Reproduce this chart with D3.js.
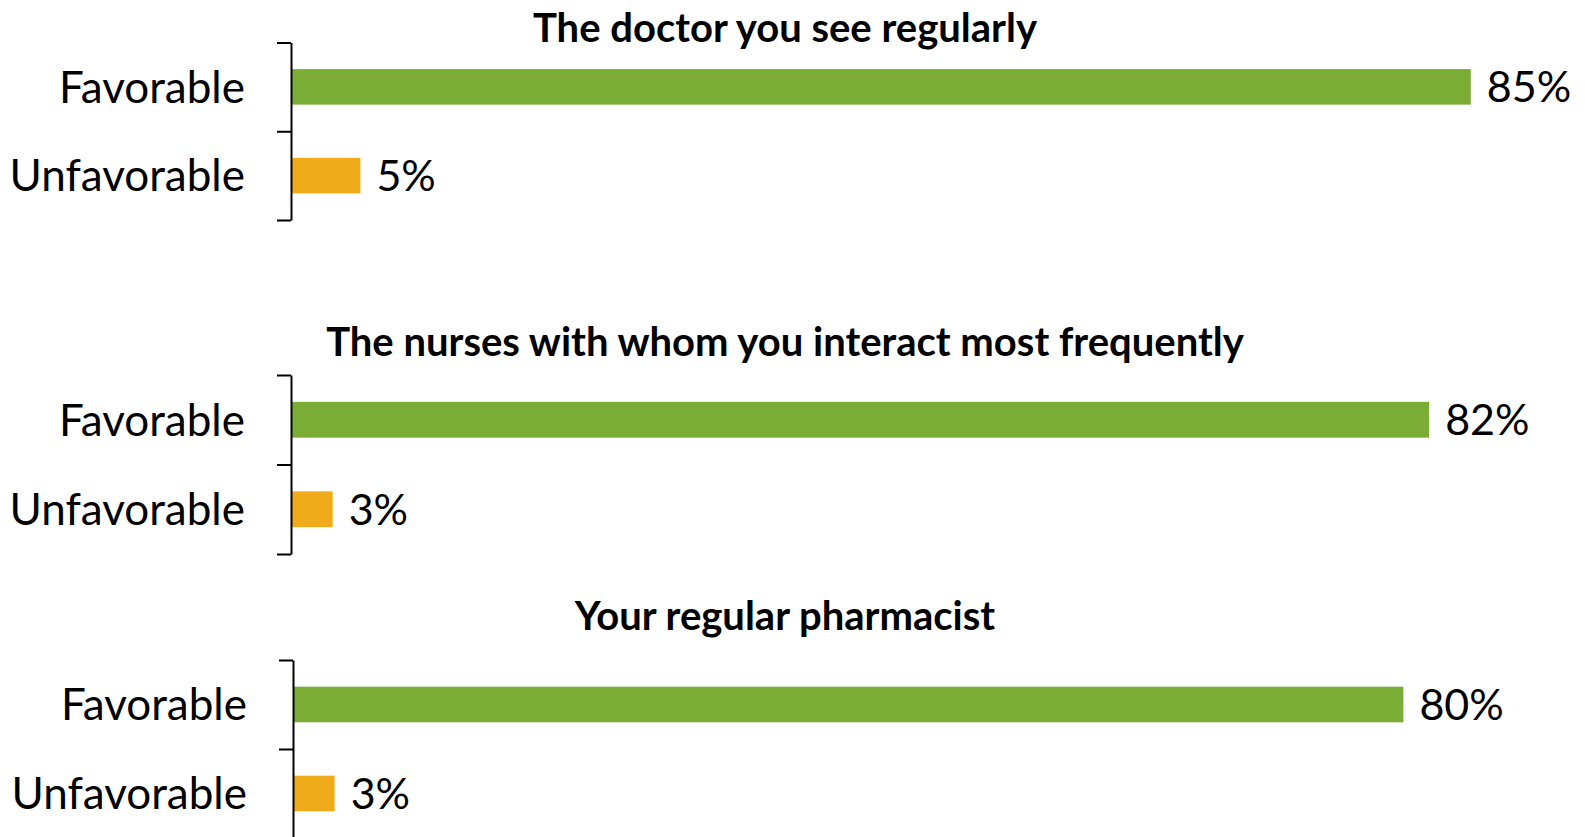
<!DOCTYPE html>
<html>
<head>
<meta charset="utf-8">
<script src="https://cdn.jsdelivr.net/npm/d3@7"></script>
<style>
  body { margin: 0; background: #fff; }
  svg text { font-family: Lato, "Open Sans", sans-serif; fill: #000; }
</style>
</head>
<body>
<svg class="chart"></svg>
<script>
// data
var titles = ["The doctor you see regularly",
              "The nurses with whom you interact most frequently",
              "Your regular pharmacist"];
var categories = ["Favorable", "Unfavorable"];
var favorable = [85, 82, 80];
var unfavorable = [5, 3, 3];

var width = 1585,
    height = 837;

var colors = ["#7aac36", "#efab1a"];

// where each little panel sits
var panels = [
  { top: 42.5, bottom: 220, axisX: 291, titleY: 28 },
  { top: 375,  bottom: 554, axisX: 291, titleY: 342 },
  { top: 660,  bottom: 838, axisX: 293, titleY: 616 }
];

var chart = d3.select(".chart")
    .attr("width", width)
    .attr("height", height);

var x = d3.scaleLinear()
    .domain([0, 100])
    .range([0, 1388]);

titles.forEach(function(title, i) {
  var p = panels[i];
  var values = [favorable[i], unfavorable[i]];

  var y = d3.scaleBand()
      .domain(categories)
      .range([p.top, p.bottom])
      .paddingInner(0.6)
      .paddingOuter(0.3);

  // bracket style axis: ticks on the band edges
  var edges = d3.scaleLinear()
      .domain([0, categories.length])
      .range([p.top, p.bottom]);

  var g = chart.append("g");

  g.append("text")
      .attr("x", 785)
      .attr("y", p.titleY)
      .attr("dy", "0.36em")
      .attr("text-anchor", "middle")
      .style("font-weight", "bold")
      .style("font-size", "40px")
      .text(title);

  g.selectAll(".bar")
      .data(values)
      .enter()
      .append("rect")
      .attr("class", "bar")
      .attr("x", p.axisX)
      .attr("y", function(d, j) { return y(categories[j]); })
      .attr("width", function(d) { return x(d); })
      .attr("height", y.bandwidth())
      .style("fill", function(d, j) { return colors[j]; });

  g.selectAll(".value")
      .data(values)
      .enter()
      .append("text")
      .attr("class", "value")
      .attr("x", function(d) { return p.axisX + x(d) + 16; })
      .attr("y", function(d, j) { return y(categories[j]) + y.bandwidth() / 2; })
      .attr("dy", "0.36em")
      .style("font-size", "43px")
      .text(function(d) { return d + "%"; });

  g.selectAll(".cat")
      .data(categories)
      .enter()
      .append("text")
      .attr("class", "cat")
      .attr("x", p.axisX - 46)
      .attr("y", function(d) { return y(d) + y.bandwidth() / 2; })
      .attr("dy", "0.36em")
      .attr("text-anchor", "end")
      .style("font-size", "44px")
      .text(function(d) { return d; });

  var axis = g.append("g")
      .attr("transform", "translate(" + p.axisX + ",0)")
      .call(d3.axisLeft(edges)
        .tickValues(d3.range(categories.length + 1))
        .tickFormat("")
        .tickSizeInner(14)
        .tickSizeOuter(0));

  axis.selectAll("path, line")
      .attr("stroke", "#000")
      .attr("stroke-width", 2);
});
</script>
</body>
</html>
